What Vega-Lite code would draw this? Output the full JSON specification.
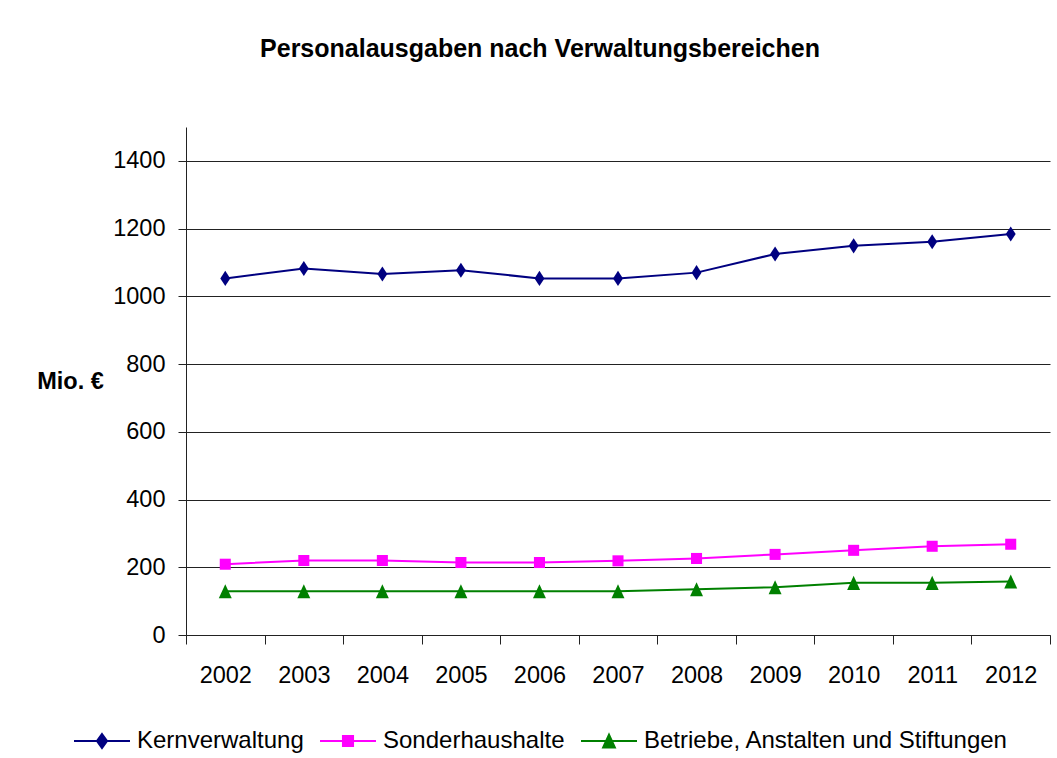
{
  "$schema": "https://vega.github.io/schema/vega-lite/v6.json",
  "width": 864,
  "height": 508,
  "autosize": {"type": "none"},
  "padding": {"left": 186, "top": 127, "right": 7, "bottom": 123},
  "background": "white",
  "title": {
    "text": "Personalausgaben nach Verwaltungsbereichen",
    "font": "Liberation Sans",
    "fontSize": 25,
    "fontWeight": "bold",
    "color": "black",
    "anchor": "middle",
    "frame": "group",
    "dx": -78,
    "offset": 45,
    "baseline": "alphabetic"
  },
  "config": {
    "view": {"stroke": null},
    "font": "Liberation Sans"
  },
  "data": {
    "values": [
      {"year": "2002", "series": "Kernverwaltung", "value": 1053},
      {"year": "2003", "series": "Kernverwaltung", "value": 1082},
      {"year": "2004", "series": "Kernverwaltung", "value": 1066},
      {"year": "2005", "series": "Kernverwaltung", "value": 1077},
      {"year": "2006", "series": "Kernverwaltung", "value": 1053},
      {"year": "2007", "series": "Kernverwaltung", "value": 1053},
      {"year": "2008", "series": "Kernverwaltung", "value": 1070},
      {"year": "2009", "series": "Kernverwaltung", "value": 1125},
      {"year": "2010", "series": "Kernverwaltung", "value": 1149},
      {"year": "2011", "series": "Kernverwaltung", "value": 1161},
      {"year": "2012", "series": "Kernverwaltung", "value": 1184},
      {"year": "2002", "series": "Sonderhaushalte", "value": 209},
      {"year": "2003", "series": "Sonderhaushalte", "value": 220},
      {"year": "2004", "series": "Sonderhaushalte", "value": 220},
      {"year": "2005", "series": "Sonderhaushalte", "value": 214},
      {"year": "2006", "series": "Sonderhaushalte", "value": 214},
      {"year": "2007", "series": "Sonderhaushalte", "value": 219},
      {"year": "2008", "series": "Sonderhaushalte", "value": 226},
      {"year": "2009", "series": "Sonderhaushalte", "value": 238},
      {"year": "2010", "series": "Sonderhaushalte", "value": 250},
      {"year": "2011", "series": "Sonderhaushalte", "value": 262},
      {"year": "2012", "series": "Sonderhaushalte", "value": 268},
      {"year": "2002", "series": "Betriebe, Anstalten und Stiftungen", "value": 129},
      {"year": "2003", "series": "Betriebe, Anstalten und Stiftungen", "value": 129},
      {"year": "2004", "series": "Betriebe, Anstalten und Stiftungen", "value": 129},
      {"year": "2005", "series": "Betriebe, Anstalten und Stiftungen", "value": 129},
      {"year": "2006", "series": "Betriebe, Anstalten und Stiftungen", "value": 129},
      {"year": "2007", "series": "Betriebe, Anstalten und Stiftungen", "value": 129},
      {"year": "2008", "series": "Betriebe, Anstalten und Stiftungen", "value": 135},
      {"year": "2009", "series": "Betriebe, Anstalten und Stiftungen", "value": 141},
      {"year": "2010", "series": "Betriebe, Anstalten und Stiftungen", "value": 154},
      {"year": "2011", "series": "Betriebe, Anstalten und Stiftungen", "value": 154},
      {"year": "2012", "series": "Betriebe, Anstalten und Stiftungen", "value": 158}
    ]
  },
  "encoding": {
    "x": {
      "field": "year",
      "type": "ordinal",
      "bandPosition": 0.5,
      "scale": {"type": "band", "paddingInner": 0, "paddingOuter": 0},
      "axis": {
        "title": null,
        "labelAngle": 0,
        "tickBand": "extent",
        "tickSize": 9,
        "labelPadding": 19,
        "labelFontSize": 23.5,
        "labelFont": "Liberation Sans",
        "labelColor": "black",
        "domainColor": "#222222",
        "tickColor": "#222222",
        "grid": false
      }
    },
    "y": {
      "field": "value",
      "type": "quantitative",
      "scale": {"domain": [0, 1500], "nice": false},
      "axis": {
        "values": [0, 200, 400, 600, 800, 1000, 1200, 1400],
        "format": "d",
        "grid": true,
        "gridColor": "#222222",
        "gridWidth": 1,
        "tickSize": 8,
        "tickColor": "#222222",
        "domainColor": "#222222",
        "labelFontSize": 23.5,
        "labelFont": "Liberation Sans",
        "labelColor": "black",
        "labelPadding": 13,
        "title": "Mio. €",
        "titleAngle": 0,
        "titleFont": "Liberation Sans",
        "titleFontSize": 23.5,
        "titleFontWeight": "bold",
        "titleColor": "black",
        "titleX": -116,
        "titleY": 254,
        "titleAlign": "center",
        "titleBaseline": "middle"
      }
    }
  },
  "layer": [
    {
      "transform": [{"filter": "datum.series === 'Kernverwaltung'"}],
      "mark": {"type": "line", "strokeWidth": 2, "color": "#000080",
        "point": {"filled": true, "size": 256, "opacity": 1, "color": "#000080", "shape": "M0,-0.94L0.62,0L0,0.94L-0.62,0Z"}},
      "encoding": {}
    },
    {
      "transform": [{"filter": "datum.series === 'Sonderhaushalte'"}],
      "mark": {"type": "line", "strokeWidth": 2, "color": "#FF00FF",
        "point": {"filled": true, "size": 256, "opacity": 1, "color": "#FF00FF", "shape": "M-0.69,-0.69H0.69V0.69H-0.69Z"}},
      "encoding": {}
    },
    {
      "transform": [{"filter": "datum.series === 'Betriebe, Anstalten und Stiftungen'"}],
      "mark": {"type": "line", "strokeWidth": 2, "color": "#008000",
        "point": {"filled": true, "size": 256, "opacity": 1, "color": "#008000", "shape": "M0,-0.88L0.81,0.88H-0.81Z"}},
      "encoding": {}
    },
    {
      "transform": [{"filter": "datum.value < 0"}],
      "mark": {"type": "point", "filled": true, "size": 3136, "opacity": 1},
      "encoding": {
        "color": {
          "field": "series",
          "type": "nominal",
          "scale": {
            "domain": ["Kernverwaltung", "Sonderhaushalte", "Betriebe, Anstalten und Stiftungen"],
            "range": ["#000080", "#FF00FF", "#008000"]
          },
          "legend": {
            "title": null,
            "orient": "none",
            "legendX": -113,
            "legendY": 585,
            "direction": "horizontal",
            "labelFontSize": 24,
            "labelFont": "Liberation Sans",
            "labelColor": "black",
            "labelLimit": 0,
            "labelOffset": 6,
            "columnPadding": 12,
            "padding": 0,
            "symbolSize": 3136,
            "symbolOpacity": 1,
            "symbolStrokeWidth": 2,
            "encode": {
              "symbols": {
                "update": {
                  "stroke": {"scale": "color", "field": "value"},
                  "strokeWidth": {"value": 2},
                  "opacity": {"value": 1}
                }
              }
            }
          }
        },
        "shape": {
          "field": "series",
          "type": "nominal",
          "scale": {
            "domain": ["Kernverwaltung", "Sonderhaushalte", "Betriebe, Anstalten und Stiftungen"],
            "range": [
              "M-1,0H1M0,-0.25L0.18,0L0,0.25L-0.18,0Z",
              "M-1,0H1M-0.18,-0.18H0.18V0.18H-0.18Z",
              "M-1,0H1M0,-0.23L0.21,0.23H-0.21Z"
            ]
          },
          "legend": {
            "title": null,
            "orient": "none",
            "legendX": -113,
            "legendY": 585,
            "direction": "horizontal",
            "labelFontSize": 24,
            "labelFont": "Liberation Sans",
            "labelColor": "black",
            "labelLimit": 0,
            "labelOffset": 6,
            "columnPadding": 12,
            "padding": 0,
            "symbolSize": 3136,
            "symbolOpacity": 1,
            "symbolStrokeWidth": 2,
            "encode": {
              "symbols": {
                "update": {
                  "stroke": {"scale": "color", "field": "value"},
                  "strokeWidth": {"value": 2},
                  "opacity": {"value": 1}
                }
              }
            }
          }
        }
      }
    }
  ]
}
